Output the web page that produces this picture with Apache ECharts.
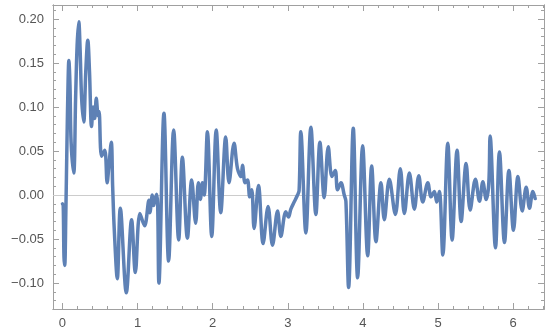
<!DOCTYPE html>
<html>
<head>
<meta charset="utf-8">
<script src="https://cdn.jsdelivr.net/npm/echarts@6/dist/echarts.min.js"></script>
<style>
html,body{margin:0;padding:0;background:#fff;}
#chart{width:550px;height:334px;}
</style>
</head>
<body>
<div id="chart"></div>
<script>
// time (x) and signal (y)
var tValues = [
	0.000,0.010,0.020,0.030,0.045,0.060,0.075,0.085,0.100,0.115,
	0.150,0.175,0.195,0.217,0.235,0.255,0.283,0.310,0.337,0.360,
	0.387,0.410,0.430,0.450,0.475,0.487,0.520,0.563,0.595,0.615,
	0.650,0.668,0.690,0.730,0.770,0.850,0.920,0.970,1.031,1.093,
	1.151,1.164,1.196,1.213,1.253,1.267,1.284,1.351,1.413,1.480,
	1.547,1.596,1.663,1.720,1.773,1.809,1.836,1.863,1.887,1.929,
	1.987,2.047,2.107,2.173,2.217,2.284,2.330,2.377,2.396,2.431,
	2.463,2.493,2.520,2.551,2.609,2.671,2.737,2.796,2.863,2.907,
	2.973,3.009,3.040,3.084,3.129,3.150,3.173,3.240,3.307,3.373,
	3.427,3.484,3.538,3.587,3.631,3.662,3.707,3.751,3.773,3.809,
	3.871,3.929,3.996,4.063,4.116,4.173,4.240,4.284,4.351,4.431,
	4.497,4.551,4.618,4.684,4.743,4.796,4.863,4.907,4.951,4.982,
	5.017,5.063,5.129,5.187,5.253,5.307,5.373,5.427,5.497,5.551,
	5.596,5.640,5.675,5.693,5.764,5.817,5.884,5.943,6.004,6.063,
	6.120,6.173,6.217,6.262,6.293
];
var signal = [
	-0.010,-0.012,-0.070,-0.080,-0.020,0.060,0.130,0.153,0.125,0.060,
	0.025,0.110,0.170,0.197,0.165,0.110,0.083,0.140,0.176,0.140,
	0.078,0.100,0.087,0.110,0.090,0.095,0.044,0.051,0.014,0.030,
	0.060,0.010,-0.040,-0.095,-0.015,-0.111,-0.028,-0.088,-0.021,-0.035,
	-0.006,-0.020,0.000,-0.012,0.001,-0.010,-0.100,0.093,-0.075,0.074,
	-0.051,0.043,-0.049,0.017,-0.032,0.014,-0.005,0.014,0.000,0.072,
	-0.047,0.074,-0.020,0.066,0.014,0.059,0.030,0.021,0.034,0.014,
	0.017,-0.002,0.006,-0.038,0.011,-0.055,-0.013,-0.057,-0.018,-0.047,
	-0.019,-0.025,-0.016,-0.008,0.000,0.005,0.072,-0.043,0.077,-0.022,
	0.060,-0.003,0.055,0.021,0.028,0.006,0.014,0.000,-0.007,-0.105,
	0.076,-0.094,0.056,-0.069,0.033,-0.053,0.014,-0.028,0.018,-0.022,
	0.030,-0.021,0.025,-0.016,0.022,-0.008,0.014,-0.002,0.004,-0.008,
	0.004,-0.068,0.059,-0.051,0.051,-0.030,0.036,-0.017,0.018,-0.007,
	0.015,-0.005,0.013,0.067,-0.060,0.049,-0.054,0.028,-0.040,0.021,
	-0.018,0.009,-0.015,0.004,-0.004
];
var xMajor = [0,1,2,3,4,5,6];
var xMinor = [0,0.2,0.4,0.6,0.8,1,1.2,1.4,1.6,1.8,2,2.2,2.4,2.6,2.8,3,3.2,3.4,3.6,3.8,4,4.2,4.4,4.6,4.8,5,5.2,5.4,5.6,5.8,6,6.2,6.4];
var yMajor = [-0.10,-0.05,0,0.05,0.10,0.15,0.20];
var yMinor = [-0.12,-0.11,-0.10,-0.09,-0.08,-0.07,-0.06,-0.05,-0.04,-0.03,-0.02,-0.01,0,
	0.01,0.02,0.03,0.04,0.05,0.06,0.07,0.08,0.09,0.10,0.11,0.12,0.13,0.14,0.15,0.16,0.17,0.18,0.19,0.20,0.21];

var xMin = -0.126, xMax = 6.41;
var yMin = -0.1295, yMax = 0.216;
var frameColor = "#a0a0a0";

var seriesData = [];
for (var i = 0; i < tValues.length; i++) {
	seriesData.push([tValues[i], signal[i]]);
}

var makeX = function(pos, ticks, len, labels){
	return {
		type: "value", position: pos, min: xMin, max: xMax,
		splitLine: {show: false},
		axisLine: {show: true, onZero: false, lineStyle: {color: frameColor, width: 1}},
		axisTick: {show: true, inside: true, length: len, customValues: ticks, lineStyle: {color: frameColor}},
		axisLabel: {show: labels, customValues: ticks, margin: 8, color: "#555",
			fontFamily: "Liberation Sans", fontSize: 13}
	};
};
var makeY = function(pos, ticks, len, labels){
	return {
		type: "value", position: pos, min: yMin, max: yMax,
		splitLine: {show: false},
		axisLine: {show: true, onZero: false, lineStyle: {color: frameColor, width: 1}},
		axisTick: {show: true, inside: true, length: len, customValues: ticks, lineStyle: {color: frameColor}},
		axisLabel: {show: labels, customValues: ticks, margin: 9, color: "#555",
			fontFamily: "Liberation Sans", fontSize: 13,
			formatter: function(v){ return v.toFixed(2).replace("-", "\u2212"); }}
	};
};

var chart = echarts.init(document.getElementById("chart"));
chart.setOption({
	animation: false,
	grid: {left: 53, right: 6, top: 5, bottom: 25},
	xAxis: [
		makeX("bottom", xMajor, 6, true),
		makeX("bottom", xMinor, 3, false),
		makeX("top", xMajor, 6, false),
		makeX("top", xMinor, 3, false)
	],
	yAxis: [
		makeY("left", yMajor, 6, true),
		makeY("left", yMinor, 3, false),
		makeY("right", yMajor, 6, false),
		makeY("right", yMinor, 3, false)
	],
	series: [{
		type: "line",
		xAxisIndex: 0, yAxisIndex: 0,
		data: seriesData,
		showSymbol: false,
		smooth: 0.35,
		lineStyle: {color: "#5e81b5", width: 3.5, join: "round", cap: "round"},
		itemStyle: {color: "#5e81b5"},
		z: 3,
		markLine: {
			silent: true, symbol: "none", label: {show: false},
			lineStyle: {color: "#cccccc", width: 1, type: "solid"},
			data: [{yAxis: 0}],
			z: 1
		}
	}]
});
</script>
</body>
</html>
